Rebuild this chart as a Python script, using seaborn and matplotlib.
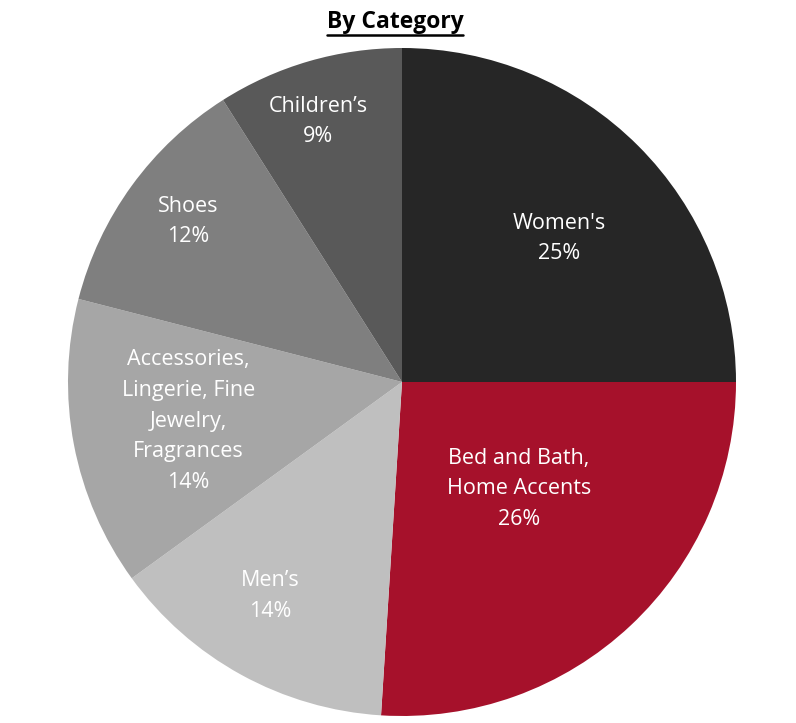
import matplotlib
matplotlib.use("Agg")
import matplotlib.pyplot as plt
import seaborn as sns
import numpy as np

categories = ["Women's", "Bed and Bath,\nHome Accents", "Men\u2019s",
              "Accessories,\nLingerie, Fine\nJewelry,\nFragrances", "Shoes", "Children\u2019s"]
shares = [25, 26, 14, 14, 12, 9]
colors = ["#262626", "#A6112B", "#BFBFBF", "#A6A6A6", "#7F7F7F", "#595959"]
# label centre positions in pie-radius units (as placed in the reference)
label_x = [0.47, 0.35, -0.395, -0.64, -0.64, -0.25]
label_y = [0.43, -0.32, -0.64, -0.117, 0.48, 0.78]

sns.set_theme(style="white")
plt.rcParams['font.family'] = ['Open Sans', 'DejaVu Sans']

W, H = 796, 723
fig = plt.figure(figsize=(W / 100, H / 100), dpi=100)
cx, cy, R = 402, 382, 334
ax = fig.add_axes([(cx - R) / W, (H - cy - R) / H, 2 * R / W, 2 * R / H])
ax.pie(shares, colors=colors, startangle=90, counterclock=False, radius=1,
       wedgeprops=dict(linewidth=0))
ax.set_xlim(-1, 1)
ax.set_ylim(-1, 1)
ax.set_aspect("equal")
ax.axis("off")

for name, s, x, y in zip(categories, shares, label_x, label_y):
    ax.text(x, y, f"{name}\n{s}%", ha="center", va="center", color="white",
            fontsize=15.5, linespacing=1.6)

t = fig.text(395 / W, 1 - 22 / H, "By Category", ha="center", va="center",
             fontsize=16.5, fontweight="bold", color="black")
fig.canvas.draw()
bb = t.get_window_extent()
uy = (bb.y0 - 1) / H
fig.add_artist(plt.Line2D([bb.x0 / W, bb.x1 / W], [uy, uy], color="black", lw=1.8,
                          transform=fig.transFigure))

fig.savefig("out.png", dpi=100)
